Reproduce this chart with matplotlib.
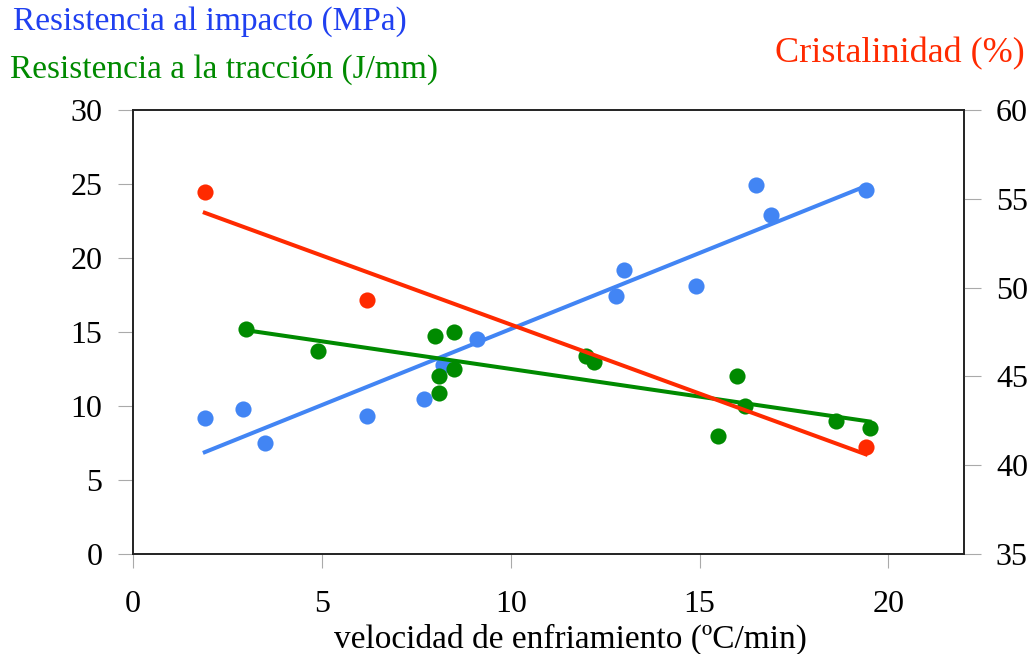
import matplotlib
matplotlib.use('Agg')
import matplotlib.pyplot as plt
import numpy as np

plt.rcParams['font.family'] = ['Liberation Serif', 'DejaVu Serif']

# velocidad de enfriamiento vs resistencia al impacto
x_imp = [1.9, 2.9, 3.5, 6.2, 7.7, 8.2, 9.1, 12.8, 13.0, 14.9, 16.5, 16.9, 19.4]
y_imp = [9.2, 9.8, 7.5, 9.3, 10.5, 12.8, 14.5, 17.4, 19.2, 18.1, 24.9, 22.9, 24.6]

# resistencia a la traccion
x_tra = [3.0, 4.9, 8.0, 8.5, 8.5, 8.1, 8.1, 12.0, 12.2, 16.0, 16.2, 15.5, 18.6, 19.5]
y_tra = [15.2, 13.7, 14.7, 15.0, 12.5, 12.0, 10.9, 13.4, 13.0, 12.0, 10.0, 8.0, 9.0, 8.5]

# cristalinidad (eje derecho)
x_cri = [1.9, 6.2, 19.4]
y_cri = [55.4, 49.3, 41.0]

c_blue = '#4285f4'
c_green = '#008a00'
c_red = '#ff2a00'
fs = 23


def trend(ax, x, y, color):
    p = np.polyfit(x, y, 1)
    xs = np.array([min(x), max(x)])
    ax.plot(xs, np.polyval(p, xs), color=color, lw=2.9, zorder=3)


fig = plt.figure(figsize=(10.28, 6.54), dpi=100)
ax = fig.add_axes([0.1294, 0.1529, 0.8083, 0.6789])
ax2 = ax.twinx()

ax.scatter(x_imp, y_imp, s=135, color=c_blue, zorder=2, linewidths=0)
trend(ax, x_imp, y_imp, c_blue)
ax.scatter(x_tra, y_tra, s=135, color=c_green, zorder=4, linewidths=0)
trend(ax, x_tra, y_tra, c_green)
ax.set_zorder(1)
ax.patch.set_visible(False)
ax2.set_zorder(2)
ax2.scatter(x_cri, y_cri, s=135, color=c_red, zorder=2, linewidths=0)
trend(ax2, x_cri, y_cri, c_red)

ax.set_xlim(0, 22)
ax.set_ylim(0, 30)
ax2.set_ylim(35, 60)
ax.set_xticks([0, 5, 10, 15, 20])
ax.set_yticks(range(0, 31, 5))
ax2.set_yticks(range(35, 61, 5))

ax.tick_params(axis='x', direction='out', length=10, color='#aaaaaa', labelsize=fs, pad=16)
ax.tick_params(axis='y', direction='out', length=11, color='#aaaaaa', labelsize=fs, pad=11)
ax2.tick_params(axis='y', direction='out', length=12, color='#aaaaaa', labelsize=fs, pad=11)
for a in (ax, ax2):
    for s in a.spines.values():
        s.set_linewidth(1.2)
        s.set_color('#222222')

ax.set_xlabel('velocidad de enfriamiento (ºC/min)', fontsize=24)
ax.xaxis.set_label_coords(0.526, -0.156)

fig.text(0.013, 0.967, 'Resistencia al impacto (MPa)', color='#2040f0', fontsize=24, va='center')
fig.text(0.010, 0.894, 'Resistencia a la tracción (J/mm)', color=c_green, fontsize=24, va='center')
fig.text(0.997, 0.918, 'Cristalinidad (%)', color=c_red, fontsize=26, va='center', ha='right')

fig.savefig('out.png')
plt.close(fig)
